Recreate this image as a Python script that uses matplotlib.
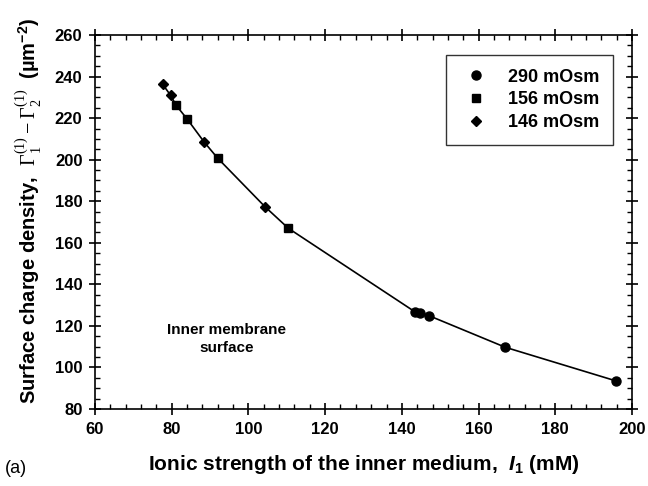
import matplotlib
matplotlib.use("Agg")
import matplotlib.pyplot as plt
import numpy as np
from matplotlib.ticker import MultipleLocator

plt.rcParams['font.family'] = ['Liberation Sans', 'DejaVu Sans']
plt.rcParams['mathtext.fontset'] = 'custom'
plt.rcParams['mathtext.rm'] = 'Liberation Serif'
plt.rcParams['mathtext.it'] = 'Liberation Sans:bold:italic'
plt.rcParams['mathtext.bf'] = 'Liberation Sans:bold'

# Data
x290 = [143.4, 144.7, 147.1, 167.0, 195.7]
y290 = [126.8, 126.4, 124.9, 109.7, 93.6]
x156 = [81.1, 84.1, 92.0, 110.4]
y156 = [226.3, 219.4, 200.7, 167.0]
x146 = [77.6, 79.7, 88.5, 104.3]
y146 = [236.4, 231.0, 208.4, 177.4]
labels = ['290 mOsm', '156 mOsm', '146 mOsm']

fig = plt.figure(figsize=(6.48, 4.86), dpi=100)
ax = fig.add_axes([0.1466, 0.1584, 0.8287, 0.7695])

allx = np.array(x290 + x156 + x146)
ally = np.array(y290 + y156 + y146)
order = np.argsort(allx)
ax.plot(allx[order], ally[order], color='black', lw=1.2, zorder=2)

h1, = ax.plot(x290, y290, 'o', color='black', ms=6.5, ls='none', zorder=3)
h2, = ax.plot(x156, y156, 's', color='black', ms=6.0, ls='none', zorder=3)
h3, = ax.plot(x146, y146, 'D', color='black', ms=5.5, ls='none', zorder=3)

ax.set_xlim(60, 200)
ax.set_ylim(80, 260)
ax.xaxis.set_major_locator(MultipleLocator(20))
ax.xaxis.set_minor_locator(MultipleLocator(4))
ax.yaxis.set_major_locator(MultipleLocator(20))
ax.yaxis.set_minor_locator(MultipleLocator(5))
ax.tick_params(which='major', direction='inout', length=8, width=1.2,
               top=True, right=True, labelsize=12, pad=5)
ax.tick_params(which='minor', direction='in', length=3.5, width=1.0,
               top=True, right=True)
for lab in ax.get_xticklabels() + ax.get_yticklabels():
    lab.set_fontweight('bold')
for s in ax.spines.values():
    s.set_linewidth(1.2)

ax.set_xlabel(r'Ionic strength of the inner medium,  $I_\mathbf{1}$ (mM)',
              fontsize=15, fontweight='bold', labelpad=12)
ax.set_ylabel(r'Surface charge density,  $\Gamma_1^{(1)} - \Gamma_2^{(1)}$  (µm$^{\mathbf{-2}}$)',
              fontsize=14.5, fontweight='bold', labelpad=4)
ax.yaxis.set_label_coords(-0.095, 0.53)

ax.text(94.4, 113.7, 'Inner membrane\nsurface', ha='center', va='center',
        fontsize=11, fontweight='bold', linespacing=1.3)

leg = ax.legend([h1, h2, h3], labels, loc='upper right',
                bbox_to_anchor=(0.9646, 0.9465), borderaxespad=0,
                frameon=True, fancybox=False, edgecolor='black',
                handletextpad=0.87, borderpad=0.75, labelspacing=0.32,
                handlelength=1.8, prop={'weight': 'bold', 'size': 13})
leg.get_frame().set_linewidth(1.0)

fig.text(0.008, 0.037, '(a)', fontsize=13, va='center')

fig.savefig('out.png', dpi=100)
